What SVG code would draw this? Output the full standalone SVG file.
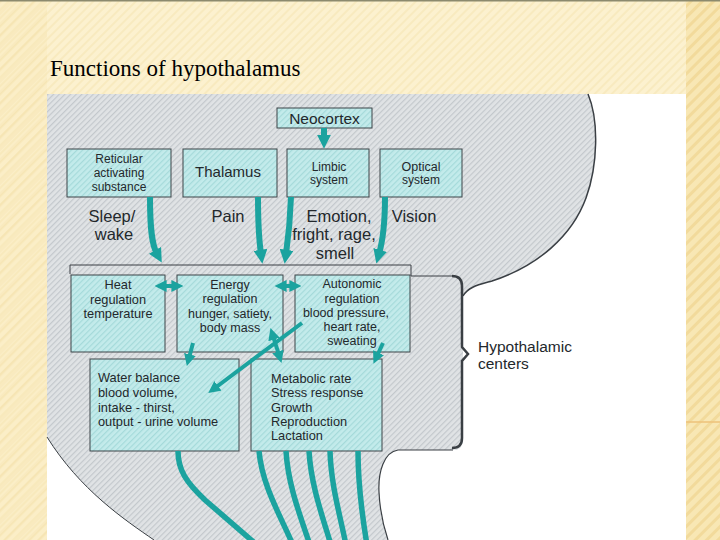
<svg xmlns="http://www.w3.org/2000/svg" width="720" height="540" viewBox="0 0 720 540">
<defs>
<pattern id="cream" width="6" height="6" patternUnits="userSpaceOnUse" patternTransform="rotate(45)"><rect width="6" height="6" fill="#fcf1cf"/><rect width="2" height="6" fill="#f5e2ab" opacity="0.45"/></pattern>
<pattern id="edge" width="8" height="8" patternUnits="userSpaceOnUse" patternTransform="rotate(45)"><rect width="8" height="8" fill="#f8e7b4"/><rect width="3" height="8" fill="#efd28a" opacity="0.6"/></pattern>
<pattern id="hatch" width="4" height="4" patternUnits="userSpaceOnUse" patternTransform="rotate(45)"><rect width="4" height="4" fill="#e0e3e5"/><rect width="1.2" height="4" fill="#c3c8cc"/></pattern>
<pattern id="hc" width="4" height="4" patternUnits="userSpaceOnUse" patternTransform="rotate(45)"><rect width="4" height="4" fill="#c3ebeb"/><rect width="1.2" height="4" fill="#a5dada"/></pattern>
<marker id="ah" viewBox="0 0 10 10" refX="3" refY="5" markerWidth="14" markerHeight="14" markerUnits="userSpaceOnUse" orient="auto-start-reverse"><path d="M0,0 L10,5 L0,10 z" fill="#1ba39f"/></marker>
<marker id="as" viewBox="0 0 10 10" refX="3" refY="5" markerWidth="12" markerHeight="12" markerUnits="userSpaceOnUse" orient="auto-start-reverse"><path d="M0,0 L10,5 L0,10 z" fill="#1ba39f"/></marker>
</defs>
<style>
.box{fill:url(#hc);stroke:#3d4448;stroke-width:1}
.t{font-family:"Liberation Sans",Arial,sans-serif;fill:#23282c}
.m{text-anchor:middle}
.conn{stroke:#1ba39f;fill:none}
.big{stroke-width:6;marker-end:url(#ah)}
.sm{stroke-width:4;marker-end:url(#as)}
.dbl{stroke-width:4;marker-start:url(#as);marker-end:url(#as)}
.fib{stroke-width:5.5}
.ol{fill:none;stroke:#3a3f44}
</style>
<!-- slide background -->
<rect width="720" height="540" fill="url(#cream)"/>
<rect x="686" y="0" width="34" height="540" fill="url(#edge)"/>
<rect x="0" y="0" width="47" height="540" fill="url(#edge)" opacity="0.3"/>
<line x1="686" y1="422" x2="720" y2="422" stroke="#eec27a" stroke-width="1.5"/>
<rect x="0" y="0" width="720" height="1.5" fill="#8c8a6e"/>
<text class="t" x="50" y="76" style="font-family:'Liberation Serif','Times New Roman',serif;font-size:23px;fill:#000">Functions of hypothalamus</text>
<!-- picture -->
<rect x="47" y="94" width="639" height="446" fill="#ffffff"/>
<path d="M47,94 H588 C599,120 598,165 586,198 C572,236 538,266 492,281 C478,285 468,287 463,296 V440 Q463,450 453,450 H398 C384,452 378,472 379,492 C380,515 384,528 388,540 H154 C125,520 80,490 47,437 Z" fill="url(#hatch)"/>
<path class="ol" stroke-width="1.5" d="M588,94 C599,120 598,165 586,198 C572,236 538,266 492,281 C478,285 468,287 463,296"/>
<path class="ol" stroke-width="1" d="M47,437 C80,490 125,520 154,540"/>
<path class="ol" stroke-width="1.2" d="M453,450 H398 C384,452 378,472 379,492 C380,515 384,528 388,540"/>
<path class="ol" stroke-width="1" d="M70,274 V265 H411 V276 H452"/>
<path class="ol" stroke-width="2.5" d="M452,276 Q462,276 462,286 V347 L468,354 L462,361 V438 Q462,448 452,448"/>
<g id="n-neocortex"><rect class="box" x="277" y="108" width="95" height="20"/><text class="t m" x="324.5" y="124" font-size="15.5">Neocortex</text></g>
<g id="n-reticular"><rect class="box" x="67" y="149" width="104" height="48"/><text class="t m" x="119" y="163" font-size="12">Reticular</text><text class="t m" x="119" y="177" font-size="12">activating</text><text class="t m" x="119" y="191" font-size="12">substance</text></g>
<g id="n-thalamus"><rect class="box" x="183" y="149" width="94" height="48"/><text class="t m" x="228" y="177" font-size="15">Thalamus</text></g>
<g id="n-limbic"><rect class="box" x="287" y="149" width="82" height="48"/><text class="t m" x="329" y="171" font-size="12">Limbic</text><text class="t m" x="329" y="184" font-size="12">system</text></g>
<g id="n-optical"><rect class="box" x="380" y="149" width="82" height="48"/><text class="t m" x="421" y="171" font-size="12.5">Optical</text><text class="t m" x="421" y="184" font-size="12">system</text></g>
<g id="l-sleep"><text class="t m" x="112" y="222" font-size="16.5">Sleep/</text><text class="t m" x="114" y="240" font-size="16.5">wake</text></g>
<g id="l-pain"><text class="t m" x="228" y="222" font-size="16.5">Pain</text></g>
<g id="l-emotion"><text class="t m" x="339" y="222" font-size="16.5">Emotion,</text><text class="t m" x="334" y="240" font-size="16.5">fright, rage,</text><text class="t m" x="335" y="259" font-size="16.5">smell</text></g>
<g id="l-vision"><text class="t m" x="414" y="222" font-size="16.5">Vision</text></g>
<g id="n-heat"><rect class="box" x="71" y="275" width="94" height="77"/><text class="t m" x="118" y="289" font-size="12.8">Heat</text><text class="t m" x="118" y="303.5" font-size="12.8">regulation</text><text class="t m" x="118" y="318" font-size="12.8">temperature</text></g>
<g id="n-energy"><rect class="box" x="177" y="275" width="106" height="77"/><text class="t m" x="230" y="289" font-size="12.5">Energy</text><text class="t m" x="230" y="303" font-size="12.5">regulation</text><text class="t m" x="230" y="318" font-size="12.5">hunger, satiety,</text><text class="t m" x="230" y="332" font-size="12.5">body mass</text></g>
<g id="n-autonomic"><rect class="box" x="295" y="275" width="115" height="77"/><text class="t m" x="352" y="288" font-size="12.5">Autonomic</text><text class="t m" x="352" y="303" font-size="12.5">regulation</text><text class="t m" x="346" y="317" font-size="12.5">blood pressure,</text><text class="t m" x="352" y="331" font-size="12.5">heart rate,</text><text class="t m" x="352" y="345" font-size="12.5">sweating</text></g>
<g id="n-water"><rect class="box" x="90" y="359" width="149" height="92"/><text class="t" x="98" y="382" font-size="12.8">Water balance</text><text class="t" x="98" y="397" font-size="12.8">blood volume,</text><text class="t" x="98" y="411.5" font-size="12.8">intake - thirst,</text><text class="t" x="98" y="426" font-size="12.8">output - urine volume</text></g>
<g id="n-metabolic"><rect class="box" x="251" y="359" width="131" height="92"/><text class="t" x="271" y="383" font-size="12.8">Metabolic rate</text><text class="t" x="271" y="397" font-size="12.8">Stress response</text><text class="t" x="271" y="411.5" font-size="12.8">Growth</text><text class="t" x="271" y="425.5" font-size="12.8">Reproduction</text><text class="t" x="271" y="440" font-size="12.8">Lactation</text></g>
<g id="l-hypothalamic"><text class="t" x="478" y="352" font-size="15.5">Hypothalamic</text><text class="t" x="478" y="369" font-size="15.5">centers</text></g>
<!-- connectors -->
<g id="connectors">
<path class="conn big" d="M324,128 V139"/>
<path class="conn big" d="M150,197 C150,230 152,245 157,254"/>
<path class="conn big" d="M258,197 C258,225 259,240 261,254"/>
<path class="conn big" d="M291,197 C290,225 288,240 286,254"/>
<path class="conn big" d="M385,197 C385,225 383,240 379,254"/>
<path class="conn dbl" d="M163,286 H175"/>
<path class="conn dbl" d="M283,286 H293"/>
<path class="conn sm" d="M193,343 L189,358"/>
<path class="conn sm" stroke-width="3.5" d="M302,323 L215,388"/>
<path class="conn dbl" d="M273,336 L279,355"/>
<path class="conn sm" d="M383,343 L377,356"/>
<path class="conn fib" d="M178,451 C178,470 186,482 205,500 L257,545"/>
<path class="conn fib" d="M259,451 C262,485 280,515 293,545"/>
<path class="conn fib" d="M286,451 C288,485 300,515 310,545"/>
<path class="conn fib" d="M309,451 C311,485 322,515 331,545"/>
<path class="conn fib" d="M330,451 C331,485 340,515 346,545"/>
<path class="conn fib" d="M358,451 C358,485 362,515 367,545"/>
</g>
</svg>
